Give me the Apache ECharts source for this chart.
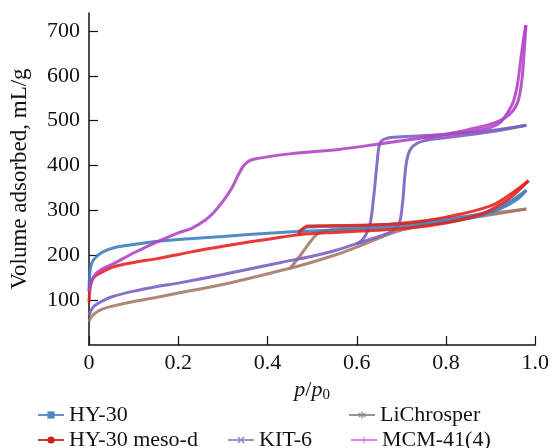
<!DOCTYPE html>
<html><head><meta charset="utf-8">
<script src="https://cdn.jsdelivr.net/npm/echarts@6/dist/echarts.min.js"></script>
<style>html,body{margin:0;padding:0;background:#fff}#c{width:552px;height:448px}</style>
</head><body><div id="c"></div>
<script>
// ---- data (p/p0, volume adsorbed mL/g) ----
const hy30Ads = [[0,120],[0.003,170],[0.01,190],[0.03,207],[0.06,218],[0.1,224],[0.155,231],[0.2,235],[0.3,242],[0.43,251],[0.47,253],[0.55,256],[0.65,261],[0.75,268],[0.85,282],[0.92,303],[0.96,325],[0.98,345]];
const hy30Des = [[0.98,345],[0.94,318],[0.9,298],[0.8,278],[0.7,270],[0.6,266],[0.52,264],[0.49,263],[0.475,256],[0.47,253]];
const mesoAds = [[0,95],[0.003,130],[0.01,150],[0.03,163],[0.057,175],[0.1,184],[0.15,192],[0.206,203],[0.3,220],[0.43,240],[0.47,246],[0.55,251],[0.65,256],[0.7,259],[0.8,272],[0.88,292],[0.93,318],[0.96,342],[0.985,366]];
const mesoDes = [[0.985,366],[0.95,340],[0.9,310],[0.8,285],[0.7,270],[0.6,267],[0.52,266],[0.49,265],[0.475,255],[0.47,246]];
const kitAds = [[0,66],[0.004,76],[0.012,87],[0.03,98],[0.05,107],[0.1,120],[0.15,130],[0.206,139],[0.3,157],[0.43,184],[0.5,198],[0.55,210],[0.6,226],[0.65,242],[0.68,254],[0.695,270],[0.703,320],[0.708,380],[0.714,420],[0.725,442],[0.75,455],[0.8,462],[0.9,475],[0.98,490]];
const kitDes = [[0.98,490],[0.9,478],[0.8,470],[0.7,464],[0.665,460],[0.652,450],[0.645,400],[0.638,330],[0.63,270],[0.62,245],[0.61,232],[0.6,226]];
const liAds = [[0,52],[0.005,62],[0.015,72],[0.03,80],[0.05,86],[0.1,97],[0.15,106],[0.206,117],[0.3,135],[0.43,166],[0.47,176],[0.55,200],[0.6,218],[0.7,256],[0.8,274],[0.9,290],[0.98,303]];
const liDes = [[0.98,303],[0.9,293],[0.8,282],[0.7,272],[0.6,262],[0.53,255],[0.51,246],[0.49,222],[0.47,195],[0.45,170]];
const mcmAds = [[0,120],[0.005,140],[0.014,157],[0.03,170],[0.052,180],[0.1,205],[0.155,231],[0.2,250],[0.23,260],[0.26,278],[0.28,296],[0.3,320],[0.32,350],[0.335,380],[0.347,400],[0.36,411],[0.38,416],[0.45,426],[0.56,436],[0.65,448],[0.75,462],[0.85,475],[0.89,482],[0.92,495],[0.934,512],[0.95,540],[0.96,580],[0.968,640],[0.975,690],[0.979,713]];
const mcmDes = [[0.979,713],[0.975,650],[0.97,590],[0.962,545],[0.95,522],[0.93,505],[0.9,492],[0.85,480],[0.8,470],[0.75,463]];
const names = ['HY-30','HY-30 meso-d','KIT-6','LiChrosper','MCM-41(4)'];
const yTicks = [100,200,300,400,500,600,700];

const colors = {'HY-30':'#3f7fbf','HY-30 meso-d':'#e8221f','KIT-6':'#7a62c2','LiChrosper':'#a67a6a','MCM-41(4)':'#b244c8'};
const legendColors = {'HY-30':'#4f86c6','HY-30 meso-d':'#d0201c','KIT-6':'#9585cc','LiChrosper':'#8a8a86','MCM-41(4)':'#e070e0'};
const symbols = {
  'HY-30':'rect',
  'HY-30 meso-d':'circle',
  'KIT-6':'path://M0,1.4L1.4,0L5,3.6L8.6,0L10,1.4L6.4,5L10,8.6L8.6,10L5,6.4L1.4,10L0,8.6L3.6,5Z',
  'LiChrosper':'path://M4.2,0h1.6v3.6l3.2,-1.8l0.8,1.4l-3.2,1.8l3.2,1.8l-0.8,1.4l-3.2,-1.8v3.6h-1.6v-3.6l-3.2,1.8l-0.8,-1.4l3.2,-1.8l-3.2,-1.8l0.8,-1.4l3.2,1.8z',
  'MCM-41(4)':'path://M4.2,0h1.6v4.2h4.2v1.6h-4.2v4.2h-1.6v-4.2h-4.2v-1.6h4.2z'
};
const dataMap = {'HY-30':[hy30Ads,hy30Des],'HY-30 meso-d':[mesoAds,mesoDes],'KIT-6':[kitAds,kitDes],'LiChrosper':[liAds,liDes],'MCM-41(4)':[mcmAds,mcmDes]};
const drawOrder = ['LiChrosper','KIT-6','HY-30','HY-30 meso-d','MCM-41(4)'];

const series = [];
drawOrder.forEach(n => {
  dataMap[n].forEach(d => {
    series.push({
      name: n, type: 'line', data: d, smooth: 0.35, showSymbol: false,
      symbol: symbols[n], symbolSize: 8,
      lineStyle: {color: colors[n], width: 3, opacity: 0.9},
      itemStyle: {color: colors[n]},
      emphasis: {disabled: true}, animation: false
    });
  });
});

const serif = '"Liberation Serif","DejaVu Serif",serif';
function mkLegend(name, left, top) {
  return {
    data: [{name: name, itemStyle: {color: legendColors[name]}, lineStyle: {color: legendColors[name], width: 2}}],
    left: left, top: top, itemWidth: 26, itemHeight: 9, itemGap: 7,
    textStyle: {fontFamily: serif, fontSize: 22, color: '#111'}, selectedMode: false
  };
}

const chart = echarts.init(document.getElementById('c'), null, {renderer: 'canvas'});
chart.setOption({
  backgroundColor: '#fff',
  animation: false,
  grid: {left: 87, right: 15, top: 13, bottom: 103},
  legend: [
    mkLegend('HY-30', 32, 399),
    mkLegend('LiChrosper', 343, 399),
    mkLegend('HY-30 meso-d', 32, 424),
    mkLegend('KIT-6', 222, 424),
    mkLegend('MCM-41(4)', 345, 424)
  ],
  xAxis: {
    type: 'value', min: 0, max: 1, interval: 0.2,
    axisLine: {lineStyle: {color: '#111', width: 1.5}},
    axisTick: {inside: true, length: 9, lineStyle: {color: '#111', width: 1.2}},
    splitLine: {show: false},
    axisLabel: {fontFamily: serif, fontSize: 22, color: '#111', margin: 7,
      formatter: v => v === 0 ? '0' : v.toFixed(1)},
    name: '{i|p}/{i|p}{s|0}', nameLocation: 'middle', nameGap: 28,
    nameTextStyle: {fontFamily: serif, fontSize: 22, color: '#111',
      rich: {i: {fontFamily: serif, fontStyle: 'italic', fontSize: 22, color: '#111'},
             s: {fontFamily: serif, fontSize: 15, color: '#111', verticalAlign: 'bottom', padding: [10,0,0,0]}}}
  },
  yAxis: {
    type: 'value', min: 0, max: 740,
    axisLine: {lineStyle: {color: '#111', width: 1.5}},
    axisTick: {inside: true, length: 9, lineStyle: {color: '#111', width: 1.2}, customValues: yTicks},
    splitLine: {show: false},
    axisLabel: {fontFamily: serif, fontSize: 22, color: '#111', margin: 9, customValues: yTicks},
    name: 'Volume adsorbed, mL/g', nameLocation: 'middle', nameGap: 58, nameRotate: 90,
    nameTextStyle: {fontFamily: serif, fontSize: 23, color: '#111'}
  },
  series: series
});
</script>
</body></html>
